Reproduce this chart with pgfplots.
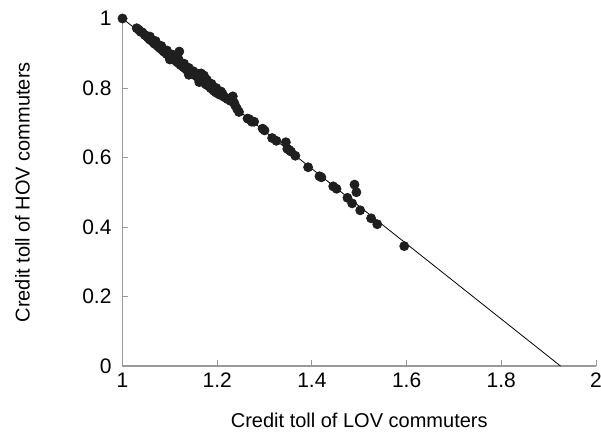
\documentclass[border=0pt]{standalone}
\usepackage{fontspec}
\setmainfont{Liberation Sans}
\usepackage{pgfplots}
\pgfplotsset{compat=1.18}
\begin{document}
\begin{tikzpicture}
\begin{axis}[
  scale only axis,
  width=236.75bp, height=173.75bp,
  xmin=1, xmax=2, ymin=0, ymax=1,
  xtick={1,1.2,1.4,1.6,1.8,2},
  ytick={0,0.2,0.4,0.6,0.8,1},
  xticklabels={1,1.2,1.4,1.6,1.8,2},
  yticklabels={0,0.2,0.4,0.6,0.8,1},
  axis lines=left,
  axis line style={gray!80, line width=0.6bp, -},
  tick style={gray!80, line width=0.5bp},
  major tick length=3bp,
  tick align=inside,
  ticklabel style={font=\fontsize{10.5bp}{12bp}\selectfont},
  y tick label style={xshift=-2bp},
  clip=false,
  xlabel={Credit toll of LOV commuters},
  ylabel={Credit toll of HOV commuters},
  label style={font=\fontsize{10bp}{12bp}\selectfont},
  x label style={at={(axis description cs:0.5,-0.155)}, anchor=center},
  y label style={at={(axis description cs:-0.2112,0.5)}, anchor=center, rotate=0},
]
\coordinate (bl) at (rel axis cs:0,0);
\coordinate (tr) at (rel axis cs:1,1);
\addplot[black, line width=0.4bp, mark=none] coordinates {(1,1) (1.925,0)};
\addplot[only marks, mark=*, mark size=2.25bp, black!88, mark options={draw=black!88, fill=black!88}] coordinates {
(1.000,1.000)
(1.030,0.972) (1.034,0.968) (1.038,0.962) (1.042,0.960) (1.047,0.953)
(1.050,0.950) (1.053,0.946) (1.057,0.940) (1.060,0.938) (1.063,0.934)
(1.066,0.930) (1.069,0.926) (1.072,0.925) (1.075,0.920) (1.078,0.916)
(1.081,0.913) (1.084,0.910) (1.087,0.905) (1.090,0.903) (1.093,0.898)
(1.096,0.896) (1.099,0.892) (1.102,0.889) (1.105,0.886) (1.108,0.882)
(1.111,0.880) (1.114,0.876) (1.117,0.873) (1.120,0.905) (1.120,0.870)
(1.123,0.866) (1.126,0.864) (1.129,0.860) (1.132,0.857) (1.135,0.853)
(1.138,0.850) (1.142,0.847) (1.145,0.843) (1.148,0.843) (1.151,0.838)
(1.155,0.836) (1.158,0.832) (1.161,0.828) (1.164,0.826) (1.167,0.820)
(1.170,0.818) (1.173,0.815) (1.176,0.811) (1.179,0.808) (1.183,0.805)
(1.186,0.800) (1.190,0.796) (1.193,0.792) (1.197,0.788) (1.200,0.785)
(1.205,0.781) (1.211,0.784) (1.214,0.775) (1.218,0.772) (1.222,0.768)
(1.228,0.763) (1.233,0.776) (1.236,0.757) (1.238,0.750) (1.242,0.740)
(1.246,0.731) (1.264,0.712) (1.268,0.710) (1.273,0.703) (1.278,0.703)
(1.296,0.683) (1.300,0.678) (1.316,0.656) (1.325,0.648) (1.345,0.644)
(1.348,0.625) (1.352,0.622) (1.356,0.617) (1.365,0.605) (1.392,0.572)
(1.416,0.546) (1.420,0.543) (1.445,0.517) (1.452,0.510) (1.475,0.484)
(1.485,0.468) (1.490,0.522) (1.494,0.500) (1.502,0.448) (1.525,0.425)
(1.538,0.408) (1.595,0.345)
(1.058,0.948) (1.070,0.935) (1.082,0.921) (1.094,0.908) (1.106,0.896)
(1.118,0.884) (1.130,0.870) (1.140,0.858) (1.150,0.848) (1.160,0.840)
(1.166,0.842) (1.172,0.836) (1.178,0.824) (1.188,0.812) (1.198,0.800)
(1.208,0.790) (1.230,0.770) (1.162,0.817) (1.140,0.838) (1.100,0.882)
};
\end{axis}
\pgfresetboundingbox
\useasboundingbox ([shift={(-61.25bp,-33bp)}]bl) rectangle ([shift={(2.5bp,9.25bp)}]tr);
\end{tikzpicture}
\end{document}
